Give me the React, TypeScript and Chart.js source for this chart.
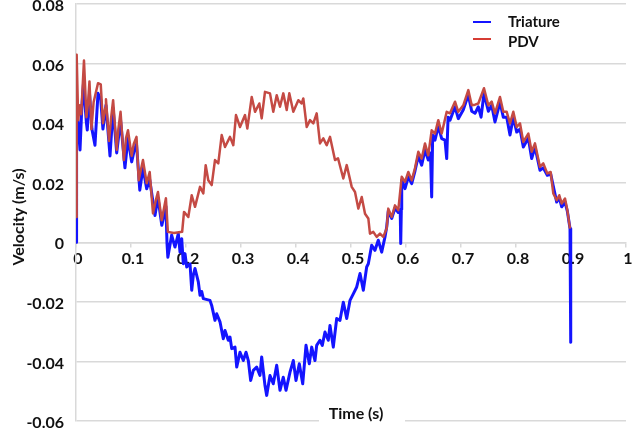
import React, { useEffect, useRef } from "react";
import { Chart, registerables } from "chart.js";

Chart.register(...registerables);

// ---------- data ----------
const pdvTime = [
  0, 0.0012, 0.004, 0.007, 0.0095, 0.0145, 0.019, 0.022, 0.0245, 0.028,
  0.032, 0.04, 0.045, 0.049, 0.053, 0.0545, 0.06, 0.064, 0.0675, 0.074,
  0.077, 0.081, 0.087, 0.091, 0.0945, 0.1012, 0.105, 0.11, 0.114, 0.1218,
  0.1285, 0.134, 0.14, 0.145, 0.149, 0.1558, 0.1635, 0.167, 0.178, 0.193,
  0.1964, 0.2042, 0.2104, 0.2164, 0.2255, 0.2315, 0.2358, 0.2405, 0.2467, 0.2527,
  0.2587, 0.2649, 0.2709, 0.28, 0.286, 0.2909, 0.2982, 0.3073, 0.3115, 0.3195,
  0.3255, 0.3333, 0.3376, 0.3436, 0.3527, 0.3587, 0.3649, 0.3709, 0.3769, 0.3831,
  0.3878, 0.3951, 0.4042, 0.4104, 0.4133, 0.4195, 0.4255, 0.4315, 0.4376, 0.4436,
  0.4496, 0.4558, 0.4618, 0.4709, 0.4764, 0.486, 0.4922, 0.5013, 0.5073, 0.5133,
  0.5195, 0.5255, 0.5315, 0.5345, 0.5405, 0.5467, 0.5527, 0.5587, 0.5649, 0.5678,
  0.574, 0.58, 0.586, 0.5922, 0.5982, 0.6042, 0.6104, 0.6164, 0.6224, 0.6285,
  0.6345, 0.6405, 0.6467, 0.6527, 0.6587, 0.6649, 0.674, 0.68, 0.6891, 0.6951,
  0.7042, 0.7133, 0.7195, 0.7255, 0.7315, 0.7418, 0.7497, 0.7558, 0.7618, 0.7709,
  0.7769, 0.7831, 0.7891, 0.7951, 0.8013, 0.8073, 0.8133, 0.8224, 0.8285, 0.8345,
  0.8436, 0.8496, 0.8569, 0.863, 0.8678, 0.874, 0.8787, 0.8831, 0.8891, 0.8933,
  0.8982,
];
const pdvVelocity = [
  0.0085, 0.063, 0.041, 0.046, 0.043, 0.061, 0.042, 0.047, 0.054, 0.038,
  0.047, 0.0534, 0.053, 0.04, 0.045, 0.048, 0.034, 0.042, 0.0477, 0.031,
  0.038, 0.0438, 0.0276, 0.035, 0.0376, 0.029, 0.033, 0.0354, 0.0208, 0.0276,
  0.0198, 0.0236, 0.0097, 0.014, 0.0169, 0.0074, 0.0148, 0.0035, 0.0031, 0.0035,
  0.0102, 0.0085, 0.0158, 0.0119, 0.0186, 0.0164, 0.0259, 0.0208, 0.0192, 0.0276,
  0.0265, 0.036, 0.032, 0.0354, 0.0326, 0.0427, 0.0387, 0.0427, 0.0382, 0.0488,
  0.0438, 0.0466, 0.0416, 0.0505, 0.05, 0.0438, 0.0494, 0.0455, 0.05, 0.0444,
  0.05, 0.0438, 0.0477, 0.0466, 0.0483, 0.0387, 0.041, 0.0399, 0.0433, 0.0332,
  0.0349, 0.0326, 0.0354, 0.0276, 0.0282, 0.0214, 0.0259, 0.0186, 0.0169, 0.0113,
  0.0152, 0.0096, 0.008, 0.0029, 0.0035, 0.0018, 0.0029, 0.0018, 0.0047, 0.0113,
  0.0085, 0.0124, 0.0108, 0.022, 0.0203, 0.0236, 0.0208, 0.0249, 0.0304, 0.0281,
  0.0332, 0.0292, 0.0376, 0.0365, 0.041, 0.0365, 0.0438, 0.0433, 0.0472, 0.0438,
  0.046, 0.0511, 0.046, 0.0462, 0.0466, 0.0517, 0.046, 0.0472, 0.0433, 0.0488,
  0.0438, 0.0438, 0.0399, 0.0438, 0.0387, 0.0399, 0.0337, 0.0365, 0.0304, 0.0332,
  0.0253, 0.0265, 0.0231, 0.0236, 0.0164, 0.0141, 0.0158, 0.013, 0.0147, 0.0108,
  0.0046,
];

const triatureTime = [
  0, 0.0006, 0.0015, 0.004, 0.0073, 0.0105, 0.0135, 0.019, 0.0205, 0.0245,
  0.029, 0.0345, 0.04, 0.045, 0.049, 0.0545, 0.0618, 0.0675, 0.074, 0.081,
  0.089, 0.0945, 0.1012, 0.106, 0.11, 0.116, 0.1218, 0.1285, 0.134, 0.1436,
  0.149, 0.156, 0.1635, 0.1655, 0.167, 0.1739, 0.18, 0.186, 0.1891, 0.1922,
  0.1951, 0.1982, 0.2013, 0.2073, 0.2104, 0.2133, 0.2164, 0.2224, 0.2255, 0.2285,
  0.2315, 0.2436, 0.2467, 0.2527, 0.2558, 0.2618, 0.2678, 0.2709, 0.2769, 0.28,
  0.2831, 0.2891, 0.2922, 0.2982, 0.3042, 0.3091, 0.3133, 0.3176, 0.3224, 0.3285,
  0.3345, 0.3376, 0.3436, 0.3467, 0.3527, 0.3587, 0.3649, 0.3709, 0.3769, 0.3818,
  0.3891, 0.3951, 0.4, 0.406, 0.4122, 0.4182, 0.4242, 0.4285, 0.4345, 0.4376,
  0.4436, 0.4478, 0.4527, 0.4587, 0.4618, 0.4678, 0.474, 0.48, 0.486, 0.4922,
  0.4982, 0.5042, 0.5104, 0.5164, 0.5224, 0.5285, 0.5315, 0.5376, 0.5436, 0.5496,
  0.5558, 0.5618, 0.5649, 0.5678, 0.574, 0.58, 0.586, 0.5895, 0.5904, 0.5915,
  0.5922, 0.5982, 0.6042, 0.6104, 0.6164, 0.6224, 0.6285, 0.6345, 0.6405, 0.6445,
  0.6467, 0.6485, 0.6527, 0.6587, 0.6649, 0.6709, 0.674, 0.6765, 0.68, 0.6891,
  0.6951, 0.7042, 0.7133, 0.7195, 0.7255, 0.7315, 0.7365, 0.7418, 0.7497, 0.7558,
  0.7618, 0.7709, 0.7769, 0.7831, 0.7891, 0.7951, 0.8013, 0.8073, 0.8133, 0.8224,
  0.8285, 0.8345, 0.8436, 0.8496, 0.8569, 0.863, 0.874, 0.8787, 0.8831, 0.8891,
  0.8933, 0.8982, 0.8995,
];
const triatureVelocity = [
  0, 0.008, 0.045, 0.04, 0.031, 0.045, 0.053, 0.04, 0.0377, 0.05,
  0.038, 0.0326, 0.05, 0.048, 0.038, 0.046, 0.029, 0.045, 0.03, 0.041,
  0.025, 0.035, 0.027, 0.031, 0.033, 0.0175, 0.025, 0.018, 0.021, 0.009,
  0.015, 0.0057, 0.012, -0.0005, -0.005, 0.0024, -0.0016, 0.0029, -0.0033, 0.0012,
  -0.0072, -0.0038, -0.0083, -0.0072, -0.0161, -0.011, -0.0088, -0.0133, -0.0178, -0.0165,
  -0.0189, -0.0195, -0.0212, -0.0262, -0.024, -0.0267, -0.0324, -0.0296, -0.0329, -0.0318,
  -0.0357, -0.0352, -0.0419, -0.0369, -0.0397, -0.0369, -0.0397, -0.0464, -0.043, -0.0419,
  -0.0447, -0.0385, -0.0481, -0.0514, -0.0447, -0.0475, -0.0413, -0.0497, -0.0453, -0.0497,
  -0.0436, -0.0397, -0.0464, -0.0408, -0.0475, -0.0346, -0.0408, -0.0352, -0.0397, -0.0346,
  -0.0329, -0.0346, -0.0301, -0.0329, -0.0279, -0.0352, -0.0256, -0.0262, -0.0201, -0.0256,
  -0.0195, -0.0173, -0.015, -0.0105, -0.0161, -0.0083, -0.0072, -0.001, -0.0027, 0.0007,
  -0.0033, 0.0018, 0.0051, 0.0105, 0.008, 0.0115, 0.01, 0.011, -0.0004, 0.011,
  0.021, 0.018, 0.022, 0.0197, 0.024, 0.029, 0.0259, 0.031, 0.0276, 0.03,
  0.0152, 0.036, 0.0343, 0.039, 0.0348, 0.0343, 0.0281, 0.042, 0.041, 0.0455,
  0.0415, 0.0445, 0.0495, 0.044, 0.0433, 0.0455, 0.042, 0.05, 0.044, 0.046,
  0.0404, 0.047, 0.042, 0.042, 0.036, 0.042, 0.037, 0.038, 0.032, 0.035,
  0.0281, 0.032, 0.0242, 0.025, 0.0225, 0.023, 0.0135, 0.015, 0.0119, 0.0135,
  0.0105, 0.0046, -0.0336,
];

const xTickLabels = ["0", "0.1", "0.2", "0.3", "0.4", "0.5", "0.6", "0.7", "0.8", "0.9", "1"];
const yTickLabels = ["-0.06", "-0.04", "-0.02", "0", "0.02", "0.04", "0.06", "0.08"];
const seriesNames = ["Triature", "PDV"];
const xTitle = "Time (s)";
const yTitle = "Velocity (m/s)";

// ---------- styles ----------
const FONT = "Lato, 'Open Sans', sans-serif";
const GRID = "#d9d9d9";
const TEXT = "#111111";
const BLUE = "#1414ff";
const RED = "#c44a44";

const overlayPlugin = {
  id: "overlay",
  afterDraw(chart: any) {
    const { ctx, chartArea: ca } = chart;
    ctx.save();
    // x axis title with white box over the bottom gridline
    ctx.font = `bold 16px ${FONT}`;
    ctx.textBaseline = "middle";
    ctx.textAlign = "center";
    const cx = (ca.left + ca.right) / 2 + 5;
    ctx.fillStyle = "#ffffff";
    ctx.fillRect(cx - 37, ca.bottom - 20, 86, 26);
    ctx.fillStyle = TEXT;
    ctx.fillText(xTitle, cx, ca.bottom - 7);

    // y axis title
    ctx.save();
    ctx.translate(19, 217);
    ctx.rotate(-Math.PI / 2);
    ctx.fillText(yTitle, 0, 0);
    ctx.restore();

    // legend
    const lx = ca.right - 153;
    const colors = [BLUE, "#d63c34"];
    const lineYs = [22, 39];
    const textYs = [22, 42];
    ctx.textAlign = "left";
    ctx.font = `bold 15px ${FONT}`;
    for (let i = 0; i < seriesNames.length; i++) {
      ctx.strokeStyle = colors[i];
      ctx.lineWidth = 2;
      ctx.beginPath();
      ctx.moveTo(lx, lineYs[i]);
      ctx.lineTo(lx + 18, lineYs[i]);
      ctx.stroke();
      ctx.fillStyle = TEXT;
      ctx.fillText(seriesNames[i], lx + 35, textYs[i]);
    }
    ctx.restore();
  },
};

export default function App() {
  const canvasRef = useRef<HTMLCanvasElement | null>(null);

  useEffect(() => {
    document.body.style.margin = "0";
    const canvas = canvasRef.current;
    if (!canvas) return;

    const triData = triatureTime.map((t, i) => ({ x: t, y: triatureVelocity[i] }));
    const pdvData = pdvTime.map((t, i) => ({ x: t, y: pdvVelocity[i] }));

    const chart = new Chart(canvas, {
      type: "line",
      data: {
        datasets: [
          {
            label: seriesNames[0],
            data: triData,
            borderColor: BLUE,
            borderWidth: 3,
            pointRadius: 0,
            tension: 0,
            borderJoinStyle: "round",
            order: 2,
          },
          {
            label: seriesNames[1],
            data: pdvData,
            borderColor: RED,
            borderWidth: 2.5,
            pointRadius: 0,
            tension: 0,
            borderJoinStyle: "round",
            order: 1,
          },
        ],
      },
      options: {
        animation: false,
        responsive: false,
        devicePixelRatio: 1,
        layout: { padding: { left: 0, top: 4, right: 18, bottom: 10 } },
        plugins: {
          legend: { display: false },
          tooltip: { enabled: false },
        },
        scales: {
          x: {
            type: "linear",
            min: 0,
            max: 1,
            position: { y: 0 } as any,
            grid: {
              drawOnChartArea: false,
              drawTicks: true,
              tickLength: 4,
              color: GRID,
              lineWidth: 1.5,
            },
            border: { display: true, color: GRID, width: 1.5 },
            ticks: {
              stepSize: 0.1,
              padding: 3,
              autoSkip: false,
              maxRotation: 0,
              labelOffset: 2,
              color: TEXT,
              font: { family: FONT, size: 16, weight: "bold" },
              callback: (v: any) => xTickLabels[Math.round(Number(v) * 10)] ?? "",
            },
            afterFit: (s: any) => {
              s.paddingLeft = 0;
              s.paddingRight = 0;
            },
          },
          y: {
            type: "linear",
            position: "left",
            min: -0.06,
            max: 0.08,
            grid: { color: GRID, lineWidth: 1.5, drawTicks: false },
            border: { display: true, color: GRID, width: 1.5 },
            ticks: {
              stepSize: 0.02,
              padding: 12,
              labelOffset: 2,
              color: TEXT,
              font: { family: FONT, size: 16, weight: "bold" },
              callback: (v: any) => yTickLabels[Math.round((Number(v) + 0.06) / 0.02)] ?? "",
            },
            afterFit: (s: any) => {
              s.width = 76;
              s.paddingTop = 0;
              s.paddingBottom = 0;
            },
          },
        },
      },
      plugins: [overlayPlugin],
    } as any);

    return () => chart.destroy();
  }, []);

  return (
    <div style={{ position: "fixed", left: 0, top: 0, width: 644, height: 431, background: "#fff" }}>
      <canvas ref={canvasRef} width={644} height={431} style={{ display: "block" }} />
    </div>
  );
}
